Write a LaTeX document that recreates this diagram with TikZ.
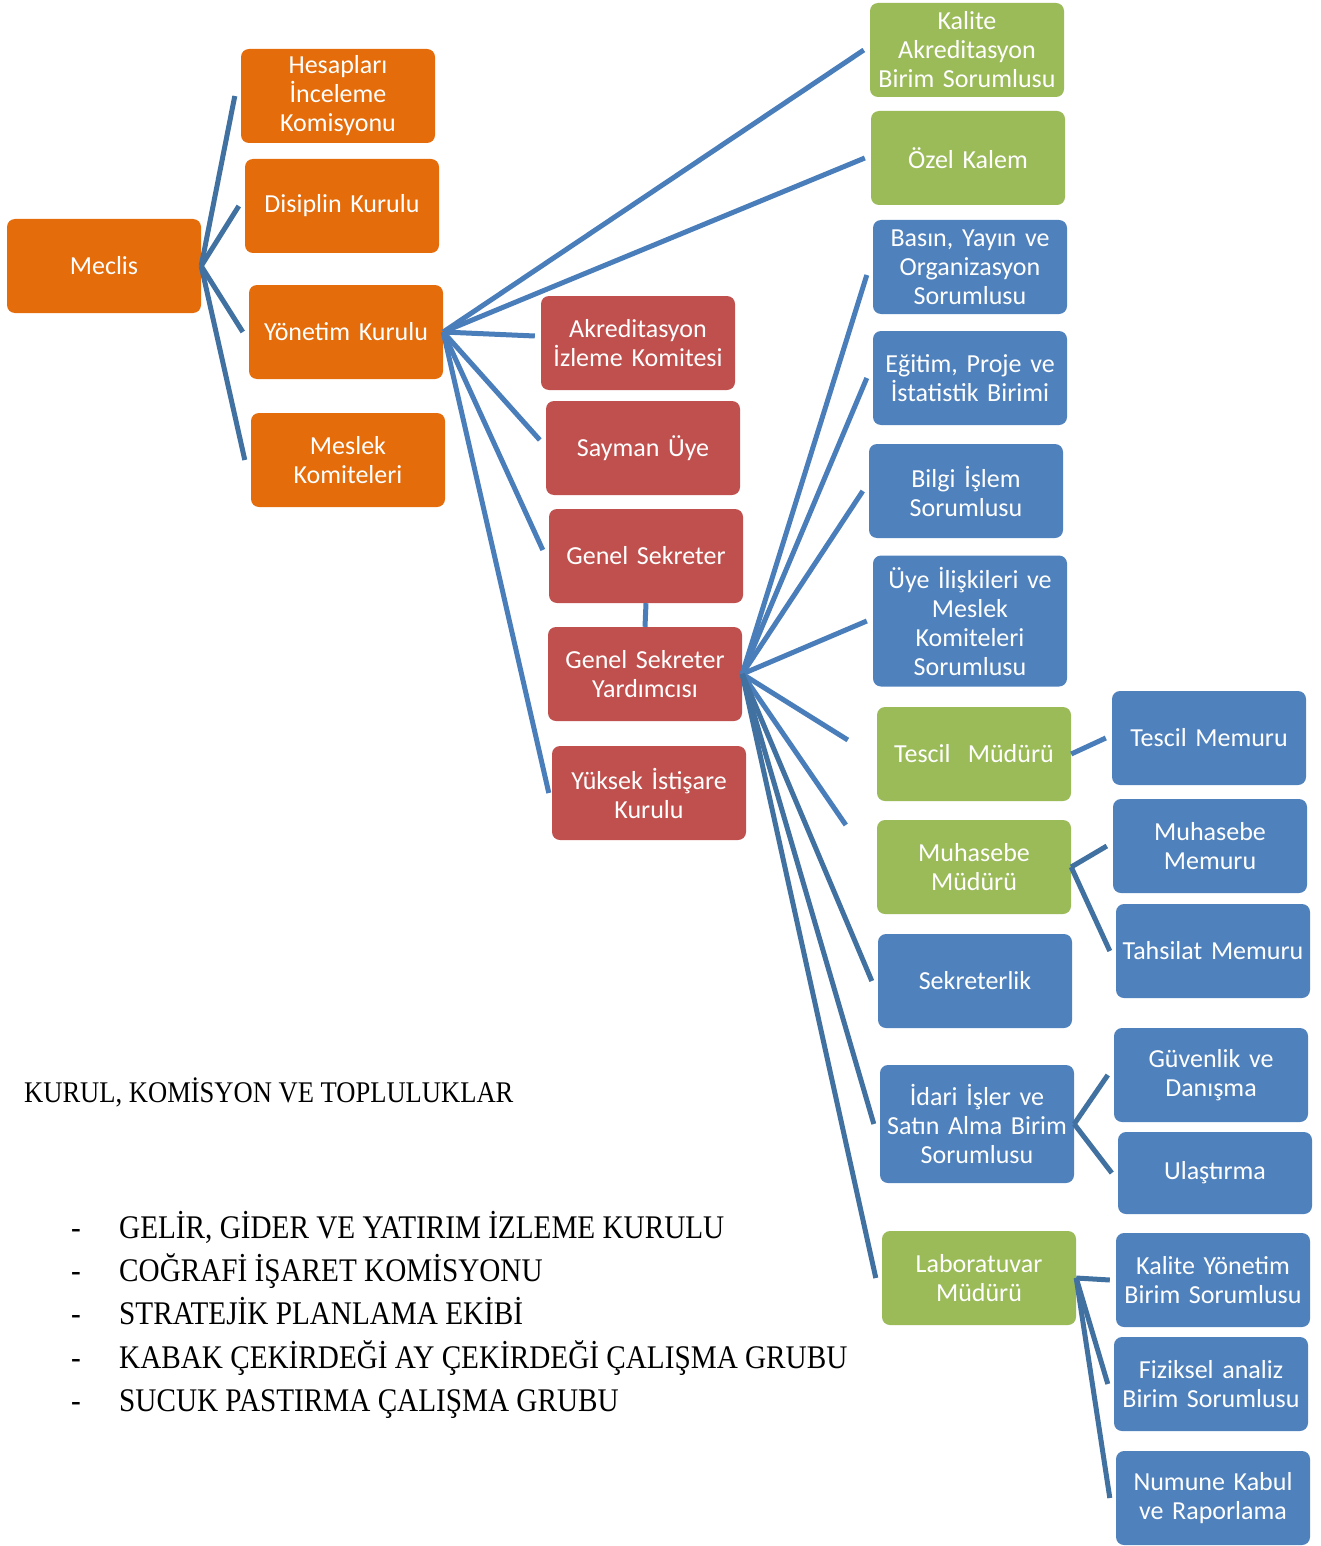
\documentclass[tikz,border=0pt]{standalone}
\usepackage{fontspec}
\setmainfont{Carlito}
\newfontfamily\listfont[FakeStretch=0.885]{Liberation Serif}
\definecolor{meorange}{RGB}{228,108,10}
\definecolor{mered}{RGB}{192,80,77}
\definecolor{megreen}{RGB}{155,187,89}
\definecolor{meblue}{RGB}{79,129,189}
\definecolor{melink}{RGB}{74,126,187}
\definecolor{melinkdark}{RGB}{65,113,160}
\tikzstyle{unit} = [rectangle, rounded corners=8pt, minimum width=194pt, minimum height=94pt, text width=190pt, inner sep=0pt, align=center, text=white, font=\fontsize{26}{29}\selectfont]
\tikzstyle{orangeunit} = [unit, fill=meorange]
\tikzstyle{redunit} = [unit, fill=mered]
\tikzstyle{greenunit} = [unit, fill=megreen]
\tikzstyle{blueunit} = [unit, fill=meblue]
\tikzstyle{link} = [line width=5pt, draw=melink]
\tikzstyle{darklink} = [line width=5pt, draw=melinkdark]
\tikzstyle{listline} = [anchor=base west, inner sep=0pt, font=\listfont\fontsize{33}{40}\selectfont]

\begin{document}
\begin{tikzpicture}[x=1pt, y=-1pt]
    \useasboundingbox (0,0) rectangle (1320,1546);

    % meclis and its boards
    \node (meclis) [orangeunit] at (104,266) {Meclis};
    \node (hesap) [orangeunit] at (338,96) {Hesapları\\İnceleme\\Komisyonu};
    \node (disiplin) [orangeunit] at (342,206) {Disiplin Kurulu};
    \node (yonetim) [orangeunit] at (346,332) {Yönetim Kurulu};
    \node (meslek) [orangeunit] at (348,460) {Meslek\\Komiteleri};

    % yonetim kurulu level
    \node (akred) [redunit] at (638,343) {Akreditasyon\\İzleme Komitesi};
    \node (sayman) [redunit] at (643,448) {Sayman Üye};
    \node (gensek) [redunit] at (646,556) {Genel Sekreter};
    \node (gsyard) [redunit] at (645,674) {Genel Sekreter\\Yardımcısı};
    \node (yuksek) [redunit] at (649,793) {Yüksek İstişare\\Kurulu};

    \node (kaliteak) [greenunit] at (967,50) {Kalite\\Akreditasyon\\Birim Sorumlusu};
    \node (ozel) [greenunit] at (968,158) {Özel Kalem};

    % genel sekreter yardimcisi level
    \node (basin) [blueunit] at (970,267) {Basın, Yayın ve\\Organizasyon\\Sorumlusu};
    \node (egitim) [blueunit] at (970,378) {Eğitim, Proje ve\\İstatistik Birimi};
    \node (bilgi) [blueunit] at (966,491) {Bilgi İşlem\\Sorumlusu};
    \node (uye) [blueunit, minimum height=131pt] at (970,621) {Üye İlişkileri ve\\Meslek\\Komiteleri\\Sorumlusu};
    \node (tescilmd) [greenunit] at (974,754) {Tescil\ \ Müdürü};
    \node (muhmd) [greenunit] at (974,867) {Muhasebe\\Müdürü};
    \node (sekreter) [blueunit] at (975,981) {Sekreterlik};
    \node (idari) [blueunit, minimum height=118pt] at (977,1124) {İdari İşler ve\\Satın Alma Birim\\Sorumlusu};
    \node (lab) [greenunit] at (979,1278) {Laboratuvar\\Müdürü};

    % memurlar
    \node (tescilmm) [blueunit] at (1209,738) {Tescil Memuru};
    \node (muhmm) [blueunit] at (1210,846) {Muhasebe\\Memuru};
    \node (tahsilat) [blueunit, text width=194pt] at (1213,951) {Tahsilat Memuru};
    \node (guvenlik) [blueunit] at (1211,1075) {Güvenlik ve\\Danışma};
    \node (ulasim) [blueunit, minimum height=82pt] at (1215,1173) {Ulaştırma};
    \node (kaliteyn) [blueunit] at (1213,1280) {Kalite Yönetim\\Birim Sorumlusu};
    \node (fiziksel) [blueunit] at (1211,1384) {Fiziksel analiz\\Birim Sorumlusu};
    \node (numune) [blueunit] at (1213,1498) {Numune Kabul\\ve Raporlama};

    % connectors
    \draw [darklink] (meclis.east) -- ([xshift=-6pt]hesap.west);
    \draw [darklink] (meclis.east) -- ([xshift=-6pt]disiplin.west);
    \draw [darklink] (meclis.east) -- ([xshift=-6pt]yonetim.west);
    \draw [darklink] (meclis.east) -- ([xshift=-6pt]meslek.west);

    \draw [link] (yonetim.east) -- ([xshift=-6pt]kaliteak.west);
    \draw [link] (yonetim.east) -- ([xshift=-6pt]ozel.west);
    \draw [link] (yonetim.east) -- ([xshift=-6pt, yshift=7pt]akred.west);
    \draw [link] (yonetim.east) -- ([xshift=-6pt, yshift=8pt]sayman.west);
    \draw [link] (yonetim.east) -- ([xshift=-6pt, yshift=6pt]gensek.west);
    \draw [link] (yonetim.east) -- ([xshift=-3pt]yuksek.west);
    \draw [link] (gensek.south) -- (gsyard.north);

    \draw [link] (gsyard.east) -- ([xshift=-6pt, yshift=-8pt]basin.west);
    \draw [link] (gsyard.east) -- ([xshift=-6pt]egitim.west);
    \draw [link] (gsyard.east) -- ([xshift=-6pt]bilgi.west);
    \draw [link] (gsyard.east) -- ([xshift=-6pt]uye.west);
    \draw [link] (gsyard.east) -- ([xshift=-29pt, yshift=14pt]tescilmd.west);
    \draw [link] (gsyard.east) -- ([xshift=-31pt, yshift=42pt]muhmd.west);
    \draw [darklink] (gsyard.east) -- ([xshift=-6pt]sekreter.west);
    \draw [darklink] (gsyard.east) -- ([xshift=-6pt]idari.west);
    \draw [darklink] (gsyard.east) -- ([xshift=-6pt]lab.west);

    \draw [link] (tescilmd.east) -- ([xshift=-6pt]tescilmm.west);
    \draw [darklink] (muhmd.east) -- ([xshift=-6pt]muhmm.west);
    \draw [darklink] (muhmd.east) -- ([xshift=-6pt]tahsilat.west);
    \draw [darklink] (idari.east) -- ([xshift=-6pt]guvenlik.west);
    \draw [darklink] (idari.east) -- ([xshift=-6pt]ulasim.west);
    \draw [darklink] (lab.east) -- ([xshift=-6pt]kaliteyn.west);
    \draw [darklink] (lab.east) -- ([xshift=-6pt]fiziksel.west);
    \draw [darklink] (lab.east) -- ([xshift=-6pt]numune.west);

    % kurul ve komisyon listesi
    \node (baslik) [listline, font=\listfont\fontsize{30}{36}\selectfont] at (24,1102) {KURUL, KOMİSYON VE TOPLULUKLAR};
    \foreach \y/\ad [count=\i] in {1238/{GELİR, GİDER VE YATIRIM İZLEME KURULU},
        1281/{COĞRAFİ İŞARET KOMİSYONU},
        1324/{STRATEJİK PLANLAMA EKİBİ},
        1368/{KABAK ÇEKİRDEĞİ AY ÇEKİRDEĞİ ÇALIŞMA GRUBU},
        1411/{SUCUK PASTIRMA ÇALIŞMA GRUBU}} {
        \node (tire\i) [listline] at (71,\y) {-};
        \node (kurul\i) [listline] at (119,\y) {\ad};
    }
\end{tikzpicture}
\end{document}
